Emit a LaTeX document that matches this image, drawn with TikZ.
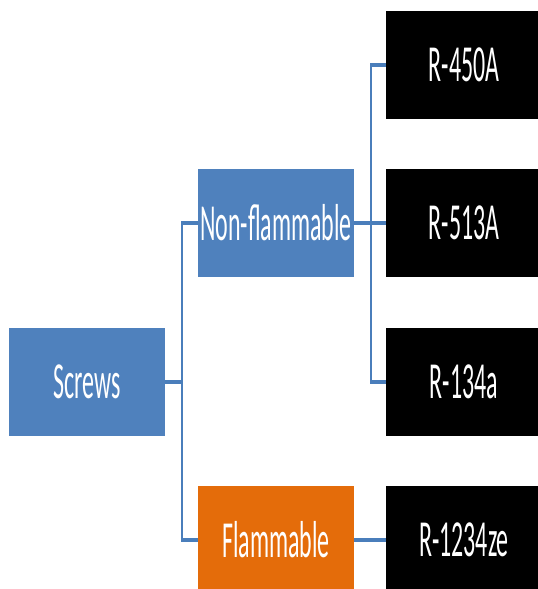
\documentclass[tikz,border=0pt]{standalone}
\usepackage{fontspec}
\setmainfont{Carlito}
\usepackage{graphicx}
\definecolor{boxblue}{HTML}{4F81BD}
\definecolor{boxorange}{HTML}{E46C0A}
\definecolor{linkblue}{HTML}{4A7EBB}
\newcommand{\lbl}[1]{\scalebox{0.46}[1]{#1}}
\begin{document}
\begin{tikzpicture}[x=1pt,y=-1pt,
  cat/.style={minimum width=156pt,minimum height=108pt,inner sep=0pt,
    text=white,font=\fontsize{52}{60}\selectfont},
  bluebox/.style={cat,fill=boxblue},
  orangebox/.style={cat,fill=boxorange},
  blackbox/.style={cat,fill=black},
  hlink/.style={draw=linkblue,line width=4pt},
  vlink/.style={draw=linkblue,line width=2pt}]
\useasboundingbox (0,0) rectangle (538,589);
\clip (0,0) rectangle (538,589);
% tree nodes
\node[bluebox] (screws) at (87,382) {\lbl{Screws}};
\node[bluebox] (nonflam) at (276,223) {\lbl{Non-flammable}};
\node[orangebox] (flam) at (276,540) {\lbl{Flammable}};
\node[blackbox] (r450) at (464,65) {\lbl{R-450A}};
\node[blackbox] (r513) at (464,223) {\lbl{R-513A}};
\node[blackbox] (r134) at (464,382) {\lbl{R-134a}};
\node[blackbox] (r1234) at (464,540) {\lbl{R-1234ze}};
% junction points of the elbow connectors
\coordinate (j1) at (182,382);
\coordinate (j2) at (371,223);
% vertical bars
\draw[vlink] (j1 |- nonflam.west) -- (j1 |- flam.west);
\draw[vlink] (j2 |- r450.west) -- (j2 |- r134.west);
% horizontal stubs
\draw[hlink] (screws.east) -- (j1);
\draw[hlink] ([xshift=-1pt]j1 |- nonflam.west) -- (nonflam.west);
\draw[hlink] ([xshift=-1pt]j1 |- flam.west) -- (flam.west);
\draw[hlink] (nonflam.east) -- (j2);
\draw[hlink] ([xshift=-1pt]j2 |- r450.west) -- (r450.west);
\draw[hlink] (j2) -- (r513.west);
\draw[hlink] ([xshift=-1pt]j2 |- r134.west) -- (r134.west);
\draw[hlink] (flam.east) -- (r1234.west);
\end{tikzpicture}
\end{document}
